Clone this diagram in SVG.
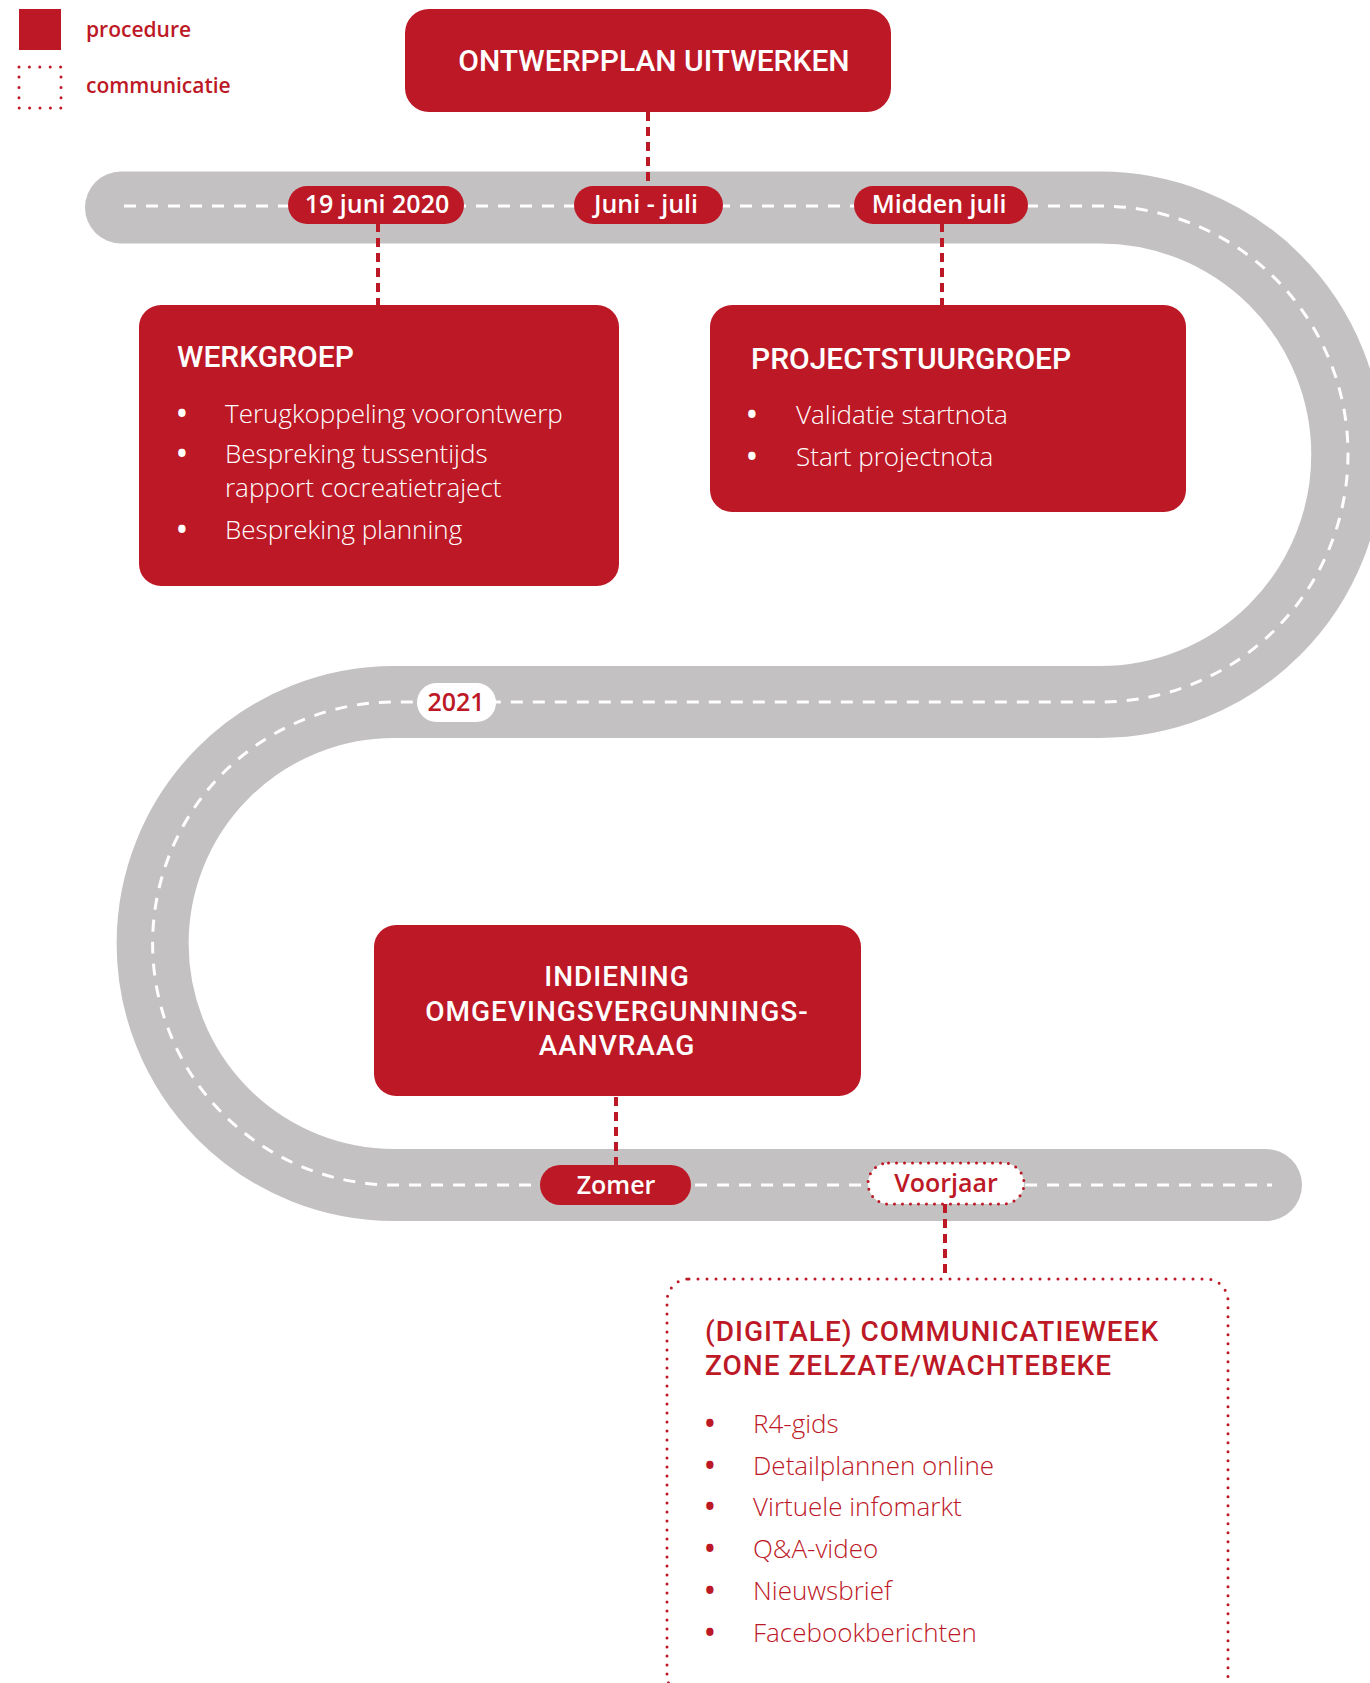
<svg xmlns="http://www.w3.org/2000/svg" width="1370" height="1683" viewBox="0 0 1370 1683">
<style>
  text { font-family: "Open Sans", "Noto Sans", "Liberation Sans", sans-serif; }
  .box { fill: #BD1826; }
  .wt { fill: #FFFFFF; }
  .rt { fill: #BD1826; }
  .title { font-family: Roboto, "Open Sans", sans-serif; font-size: 30px; font-weight: 500; letter-spacing: 0px; }
  .title2 { font-family: Roboto, "Open Sans", sans-serif; font-size: 28px; font-weight: 500; letter-spacing: 1px; }
  .body { font-size: 26px; font-weight: 300; }
  .bul { font-size: 26px; font-weight: 700; text-anchor: middle; }
  .pill { font-size: 25px; font-weight: 600; }
  .legend { font-size: 21px; font-weight: 600; }
  .conn { stroke: #BD1826; stroke-width: 4; stroke-dasharray: 9 6; fill: none; }
  .dots { fill: #FFFFFF; stroke: #BD1826; stroke-width: 3; stroke-linecap: round; }
</style>

<!-- road -->
<g id="road">
  <path d="M121 207.5 H1100 A247.25 247.25 0 0 1 1100 702 H394 A241.5 241.5 0 0 0 394 1185 H1266" fill="none" stroke="#C3C1C2" stroke-width="72" stroke-linecap="round"/>
  <path d="M124 206 H1100 A248 248 0 0 1 1100 702 H394 A241.5 241.5 0 0 0 394 1185 H1272" fill="none" stroke="#FFFFFF" stroke-width="3" stroke-dasharray="12 10"/>
</g>

<!-- legend -->
<g id="legend">
  <rect x="19" y="9" width="42" height="41" class="box"/>
  <text x="86" y="37" class="legend rt">procedure</text>
  <rect x="19" y="67" width="42" height="41" fill="none" stroke="#BD1826" stroke-width="3" stroke-linecap="round" stroke-dasharray="0 10.4"/>
  <text x="86" y="93" class="legend rt">communicatie</text>
</g>

<!-- connectors -->
<g id="connectors">
  <line x1="648" y1="112" x2="648" y2="186" class="conn"/>
  <line x1="378" y1="223" x2="378" y2="305" class="conn"/>
  <line x1="942" y1="223" x2="942" y2="305" class="conn"/>
  <line x1="616" y1="1097" x2="616" y2="1165" class="conn"/>
  <line x1="945" y1="1204" x2="945" y2="1279" class="conn"/>
</g>

<g id="ontwerpplan">
  <rect x="405" y="9" width="486" height="103" rx="24" class="box"/>
  <text x="654" y="71" text-anchor="middle" class="title wt">ONTWERPPLAN UITWERKEN</text>
</g>

<g id="pill-19juni">
  <rect x="288" y="186" width="176" height="38" rx="19" class="box"/>
  <text x="377" y="213" text-anchor="middle" class="pill wt">19 juni 2020</text>
</g>
<g id="pill-junijuli">
  <rect x="574" y="186" width="149" height="38" rx="19" class="box"/>
  <text x="646" y="213" text-anchor="middle" class="pill wt">Juni - juli</text>
</g>
<g id="pill-middenjuli">
  <rect x="854" y="186" width="174" height="38" rx="19" class="box"/>
  <text x="939" y="213" text-anchor="middle" class="pill wt">Midden juli</text>
</g>

<g id="werkgroep">
  <rect x="139" y="305" width="480" height="281" rx="22" class="box"/>
  <text x="177" y="367" class="title wt">WERKGROEP</text>
  <text x="182" y="423" class="bul wt">•</text>
  <text x="225" y="423" class="body wt">Terugkoppeling voorontwerp</text>
  <text x="182" y="463" class="bul wt">•</text>
  <text x="225" y="463" class="body wt"><tspan x="225" y="463">Bespreking tussentijds</tspan><tspan x="225" y="497">rapport cocreatietraject</tspan></text>
  <text x="182" y="539" class="bul wt">•</text>
  <text x="225" y="539" class="body wt">Bespreking planning</text>
</g>

<g id="projectstuurgroep">
  <rect x="710" y="305" width="476" height="207" rx="22" class="box"/>
  <text x="751" y="369" class="title wt">PROJECTSTUURGROEP</text>
  <text x="752" y="424" class="bul wt">•</text>
  <text x="796" y="424" class="body wt">Validatie startnota</text>
  <text x="752" y="466" class="bul wt">•</text>
  <text x="796" y="466" class="body wt">Start projectnota</text>
</g>

<g id="pill-2021">
  <rect x="417" y="683" width="79" height="39" rx="19.5" fill="#FFFFFF"/>
  <text x="456" y="711" text-anchor="middle" class="pill rt">2021</text>
</g>

<g id="indiening">
  <rect x="374" y="925" width="487" height="171" rx="22" class="box"/>
  <text x="617" y="986" text-anchor="middle" class="title2 wt"><tspan x="617" y="986">INDIENING</tspan><tspan x="617" y="1020.5">OMGEVINGSVERGUNNINGS-</tspan><tspan x="617" y="1055">AANVRAAG</tspan></text>
</g>

<g id="pill-zomer">
  <rect x="540" y="1165" width="151" height="40" rx="20" class="box"/>
  <text x="616" y="1194" text-anchor="middle" class="pill wt">Zomer</text>
</g>

<g id="pill-voorjaar">
  <rect x="868" y="1163" width="156" height="41" rx="20.5" class="dots" stroke-dasharray="0 8"/>
  <text x="946" y="1192" text-anchor="middle" class="pill rt">Voorjaar</text>
</g>

<g id="communicatieweek">
  <rect x="667" y="1279" width="561" height="418" rx="22" fill="none" stroke="#BD1826" stroke-width="3" stroke-linecap="round" stroke-dasharray="0 9"/>
  <text x="705" y="1342" class="title2 rt"><tspan x="705" y="1341">(DIGITALE) COMMUNICATIEWEEK</tspan><tspan x="705" y="1375">ZONE ZELZATE/WACHTEBEKE</tspan></text>
  <text x="710" y="1433" class="bul rt">•</text>
  <text x="753" y="1433" class="body rt">R4-gids</text>
  <text x="710" y="1475" class="bul rt">•</text>
  <text x="753" y="1475" class="body rt">Detailplannen online</text>
  <text x="710" y="1516" class="bul rt">•</text>
  <text x="753" y="1516" class="body rt">Virtuele infomarkt</text>
  <text x="710" y="1558" class="bul rt">•</text>
  <text x="753" y="1558" class="body rt">Q&amp;A-video</text>
  <text x="710" y="1600" class="bul rt">•</text>
  <text x="753" y="1600" class="body rt">Nieuwsbrief</text>
  <text x="710" y="1642" class="bul rt">•</text>
  <text x="753" y="1642" class="body rt">Facebookberichten</text>
</g>
</svg>
